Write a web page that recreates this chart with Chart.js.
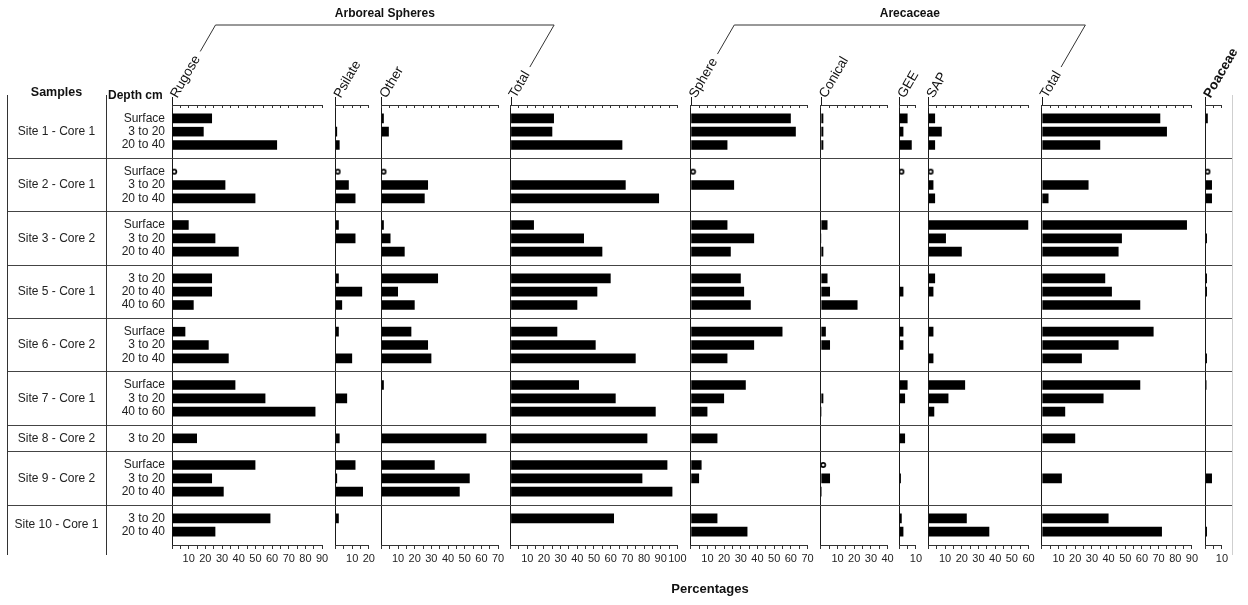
<!DOCTYPE html>
<html>
<head>
<meta charset="utf-8">
<script src="https://cdn.jsdelivr.net/npm/chart.js@4.4.1/dist/chart.umd.min.js"></script>
<style>
html,body{margin:0;padding:0;background:#fff;}
#wrap{position:relative;width:1248px;height:605px;}
canvas{display:block;}
</style>
</head>
<body>
<div id="wrap"><canvas id="c" width="1248" height="605"></canvas></div>
<script>
// ---------------- DATA ----------------
const samples = ['Site 1 - Core 1','Site 2 - Core 1','Site 3 - Core 2','Site 5 - Core 1','Site 6 - Core 2','Site 7 - Core 1','Site 8 - Core 2','Site 9 - Core 2','Site 10 - Core 1'];
const depths = [
  ['Surface','3 to 20','20 to 40'],
  ['Surface','3 to 20','20 to 40'],
  ['Surface','3 to 20','20 to 40'],
  ['3 to 20','20 to 40','40 to 60'],
  ['Surface','3 to 20','20 to 40'],
  ['Surface','3 to 20','40 to 60'],
  ['3 to 20'],
  ['Surface','3 to 20','20 to 40'],
  ['3 to 20','20 to 40']
];
const panelNames = ['Rugose','Psilate','Other','Total','Sphere','Conical','GEE','SAP','Total','Poaceae'];
const panelMax   = [90, 20, 70, 100, 70, 40, 10, 60, 90, 10];
const groupTitles = ['Arboreal Spheres','Arecaceae'];
const groupFirst  = [0, 4];
const groupLast   = [3, 8];
const headerSamples = 'Samples';
const headerDepth = 'Depth cm';
const xTitle = 'Percentages';

// one value per depth row (24 rows, in the order of `depths`)
//                 S1             S2              S3             S5             S6             S7               S8    S9               S10
const rugose   = [24, 19, 63,    null, 32, 50,   10, 26, 40,    24, 24, 13,    8, 22, 34,     38, 56, 86,      15,   50, 24, 31,      59, 26];
const psilate  = [null, 1, 2.5,  null, 8, 12,    2, 12, null,   2, 16, 4,      2, null, 10,   null, 7, null,   2.5,  12, 1, 16.5,     2, null];
const other    = [1.5, 4.5, null,null, 28, 26,   1.5, 5.5, 14,  34, 10, 20,    18, 28, 30,    1.5, null, null, 63,   32, 53, 47,      null, null];
const totalArb = [26, 25, 67,    null, 69, 89,   14, 44, 55,    60, 52, 40,    28, 51, 75,    41, 63, 87,      82,   94, 79, 97,      62, null];
const sphere   = [60, 63, 22,    null, 26, null, 22, 38, 24,    30, 32, 36,    55, 38, 22,    33, 20, 10,      16,   6.5, 5, null,    16, 34];
const conical  = [1.5, 1.5, 1.5, null, null, null, 4, 0.4, 1.5, 4, 5.5, 22,    3, 5.5, null,  null, 1.5, 0.5,  null, null, 5.5, 0.6,  null, null];
const gee      = [5, 2.5, 7.5,   null, null, null, null, null, null, null, 2.5, null, 2.5, 2.5, null, 5, 3.5, null, 3.5, null, 1, null, 1.5, 2.5];
const sap      = [4, 8, 4,       null, 3, 4,     60, 10.5, 20,  4, 3, null,    3, null, 3,    22, 12, 3.5,     null, null, null, null,  23, 36.5];
const totalAre = [71, 75, 35,    null, 28, 4,    87, 48, 46,    38, 42, 59,    67, 46, 24,    59, 37, 14,      20,   null, 12, null,  40, 72];
const poaceae  = [1.5, null, null, null, 4, 4,   null, 1, null, 1, 1, null,    null, null, 1, 0.7, null, null,  null, null, 4, null,   null, 1];
// rows where a taxon is only present (open circle), per panel
const presence = [[3], [3], [3], [], [3], [19], [3], [3], [], [3]];

const series = [rugose, psilate, other, totalArb, sphere, conical, gee, sap, totalAre, poaceae];

// ---------------- LAYOUT / STYLE ----------------
const FONT = '"Liberation Sans", Arial, Helvetica, sans-serif';
const SAMPLES_W = 99, DEPTH_W = 66;
const GAP = [8, 7.5, 7.5, 8, 8, 7, 7.5, 8, 8, 6];   // empty space after each panel, in axis units
const ROT = 60, TOP_FONT = 13.5, TOP_TICK = -3, TOP_PAD = 7, TOP_LO = 16, TOP_H = 60, BOT_H = 22;

Chart.defaults.font.family = FONT;
Chart.defaults.color = '#222';

// slot positions on the shared vertical scale
const rowPos = [], rowLabel = [], sepPos = [], blockCenter = [];
let cursor = 0;
depths.forEach(rows => {
  rows.forEach((lab, j) => { rowPos.push(cursor + j + 1); rowLabel.push(lab); });
  blockCenter.push(cursor + (rows.length + 1) / 2);
  cursor += rows.length + 1;
  sepPos.push(cursor);
});
const totalSlots = cursor;
sepPos.pop();
const yLabelMap = {};
rowPos.forEach((p, k) => { yLabelMap[p] = rowLabel[k]; });
const yTickVals = rowPos.concat(sepPos).sort((a, b) => a - b);
const isSep = v => sepPos.indexOf(v) !== -1;

// open-circle marker image (drawn a little right of the baseline)
const ring = document.createElement('canvas');
ring.width = 12; ring.height = 10;
(function () {
  const rc = ring.getContext('2d');
  rc.beginPath(); rc.arc(8.3, 5, 2.1, 0, Math.PI * 2);
  rc.fillStyle = '#fff'; rc.fill();
  rc.lineWidth = 1.7; rc.strokeStyle = '#000'; rc.stroke();
})();

// ---------------- DATASETS ----------------
const datasets = [];
series.forEach((vals, i) => {
  datasets.push({
    type: 'bar', indexAxis: 'y', grouped: false,
    xAxisID: 'bx' + i, yAxisID: 'y',
    data: vals.map((v, k) => v == null ? null : { x: v, y: rowPos[k] }).filter(Boolean),
    backgroundColor: '#000', borderWidth: 0,
    barPercentage: 0.9, categoryPercentage: 0.8
  });
  if (presence[i].length) {
    datasets.push({
      type: 'scatter', xAxisID: 'bx' + i, yAxisID: 'y',
      data: presence[i].map(k => ({ x: 0, y: rowPos[k] })),
      pointStyle: ring, pointRadius: 3, showLine: false
    });
  }
});

// ---------------- SCALES ----------------
const scales = {};
panelNames.forEach((name, i) => {
  scales['bx' + i] = {
    type: 'linear', axis: 'x', position: 'bottom', stack: 'bot', stackWeight: panelMax[i], weight: 2 * i,
    min: 0, max: panelMax[i],
    afterFit: s => { s.height = BOT_H; },
    grid: {
      display: true, drawOnChartArea: true, drawTicks: true, tickLength: 4, offset: false,
      color: c => (c.tick && c.tick.value === 0) ? '#1a1a1a' : 'rgba(0,0,0,0)',
      tickColor: '#333', lineWidth: 1
    },
    border: { display: true, color: '#333', width: 1 },
    ticks: {
      stepSize: 5, autoSkip: false, maxRotation: 0, minRotation: 0, padding: 3, color: '#222',
      font: { size: 11 },
      callback: v => (v !== 0 && v % 10 === 0) ? String(v) : ''
    }
  };
  scales['bg' + i] = {
    type: 'linear', axis: 'x', position: 'bottom', stack: 'bot', stackWeight: GAP[i], weight: 2 * i + 1,
    min: 0, max: GAP[i],
    afterFit: s => { s.height = BOT_H; },
    grid: { display: false, drawTicks: false }, border: { display: false }, ticks: { display: false }
  };
  scales['tx' + i] = {
    type: 'linear', axis: 'x', position: 'top', stack: 'top', stackWeight: panelMax[i], weight: 100 - 2 * i,
    min: 0, max: panelMax[i],
    afterFit: s => { s.height = TOP_H; },
    grid: { display: true, drawOnChartArea: false, drawTicks: true, tickLength: TOP_TICK, color: '#333', tickColor: '#333' },
    border: { display: true, color: '#333', width: 1 },
    ticks: {
      stepSize: 5, autoSkip: false, minRotation: ROT, maxRotation: ROT, padding: TOP_PAD, labelOffset: TOP_LO,
      color: '#111', font: { size: TOP_FONT, weight: i === 9 ? 'bold' : 'normal' },
      callback: v => v === 0 ? name : ''
    }
  };
  scales['tg' + i] = {
    type: 'linear', axis: 'x', position: 'top', stack: 'top', stackWeight: GAP[i], weight: 100 - 2 * i - 1,
    min: 0, max: GAP[i],
    afterFit: s => { s.height = TOP_H; },
    grid: { display: false, drawTicks: false }, border: { display: false }, ticks: { display: false }
  };
});
scales.y = {
  type: 'linear', axis: 'y', position: 'left', weight: 0,
  min: 0, max: totalSlots, reverse: true, offset: false,
  afterFit: s => { s.width = DEPTH_W; },
  afterBuildTicks: s => { s.ticks = yTickVals.map(v => ({ value: v })); },
  grid: {
    display: true, drawOnChartArea: true, drawTicks: true, offset: false,
    tickLength: SAMPLES_W + DEPTH_W,
    color: c => (c.tick && isSep(c.tick.value)) ? '#444' : 'rgba(0,0,0,0)',
    tickColor: c => (c.tick && isSep(c.tick.value)) ? '#444' : 'rgba(0,0,0,0)',
    lineWidth: 1
  },
  border: { display: false },
  ticks: {
    autoSkip: false, padding: -(SAMPLES_W + DEPTH_W) + 7, color: '#222', font: { size: 12 },
    callback: v => yLabelMap[v] || ''
  }
};
scales.ySamples = {
  type: 'linear', axis: 'y', position: 'left', weight: 1,
  min: 0, max: totalSlots, reverse: true, offset: false,
  afterFit: s => { s.width = SAMPLES_W; },
  afterBuildTicks: s => { s.ticks = blockCenter.map(v => ({ value: v })); },
  grid: { display: false, drawTicks: false }, border: { display: false },
  ticks: {
    autoSkip: false, crossAlign: 'center', padding: 7.5, color: '#222', font: { size: 12 },
    callback: (v, idx) => samples[idx]
  }
};

// ---------------- FRAME / HEADERS PLUGIN ----------------
const framePlugin = {
  id: 'frame',
  afterDraw(chart) {
    const { ctx, chartArea: ca, scales: sc } = chart;
    const ys = sc.ySamples;
    ctx.save();
    ctx.lineWidth = 1;
    ctx.strokeStyle = '#333';
    [ys.left, ys.right].forEach(x => {
      const px = Math.round(x) + 0.5;
      ctx.beginPath(); ctx.moveTo(px, ca.top - 10); ctx.lineTo(px, ca.bottom + 10); ctx.stroke();
    });
    // panel baselines poke a little above the top axis line
    ctx.strokeStyle = '#1a1a1a';
    panelNames.forEach((n, i) => {
      const px = Math.round(sc['bx' + i].getPixelForValue(0)) + 0.5;
      ctx.beginPath(); ctx.moveTo(px, ca.top - 8); ctx.lineTo(px, ca.top); ctx.stroke();
    });
    ctx.strokeStyle = '#cfcfcf';
    const rx = Math.round(ca.right) + 0.5;
    ctx.beginPath(); ctx.moveTo(rx, ca.top - 10); ctx.lineTo(rx, ca.bottom + 10); ctx.stroke();

    ctx.fillStyle = '#111';
    ctx.textBaseline = 'middle';
    ctx.font = 'bold 12.5px ' + FONT;
    ctx.textAlign = 'center';
    ctx.fillText(headerSamples, (ys.left + ys.right) / 2, ca.top - 12);
    ctx.font = 'bold 12px ' + FONT;
    ctx.textAlign = 'left';
    ctx.fillText(headerDepth, ys.right + 2, ca.top - 9);

    // group brackets follow the rotated axis-name lines
    const th = ROT * Math.PI / 180, sn = Math.sin(th), cs = Math.cos(th);
    const lh = TOP_FONT * 1.2;
    const labelLine = i => {
      const s = sc['tx' + i];
      ctx.font = TOP_FONT + 'px ' + FONT;
      const ax = s.getPixelForValue(0) + TOP_LO, ay = s.bottom - (TOP_TICK + TOP_PAD);
      return { x0: ax - lh * sn, y0: ay - lh / 2 * cs, w: ctx.measureText(panelNames[i]).width };
    };
    const lineY = ca.top - 80;
    ctx.strokeStyle = '#333';
    groupTitles.forEach((title, g) => {
      const leg = p => {
        const t0 = p.w + 6, t1 = (p.y0 - lineY) / sn;
        return { sx: p.x0 + cs * t0, sy: p.y0 - sn * t0, ex: p.x0 + cs * t1 };
      };
      const la = leg(labelLine(groupFirst[g])), lb = leg(labelLine(groupLast[g]));
      ctx.beginPath();
      ctx.moveTo(la.sx, la.sy); ctx.lineTo(la.ex, lineY); ctx.lineTo(lb.ex, lineY); ctx.lineTo(lb.sx, lb.sy);
      ctx.stroke();
      ctx.font = 'bold 12px ' + FONT;
      ctx.textAlign = 'center';
      ctx.fillText(title, (la.ex + lb.ex) / 2, lineY - 11);
    });
    ctx.font = 'bold 13px ' + FONT;
    ctx.textAlign = 'center';
    ctx.fillText(xTitle, (ca.left + chart.width) / 2, ca.bottom + 44);
    ctx.restore();
  }
};

new Chart(document.getElementById('c'), {
  type: 'bar',
  data: { datasets },
  options: {
    indexAxis: 'y',
    responsive: false,
    maintainAspectRatio: false,
    animation: false,
    layout: { padding: { left: 7, right: 16, top: 105 - TOP_H, bottom: 605 - 545 - BOT_H } },
    plugins: { legend: { display: false }, tooltip: { enabled: false }, title: { display: false } },
    scales
  },
  plugins: [framePlugin]
});
</script>
</body>
</html>
